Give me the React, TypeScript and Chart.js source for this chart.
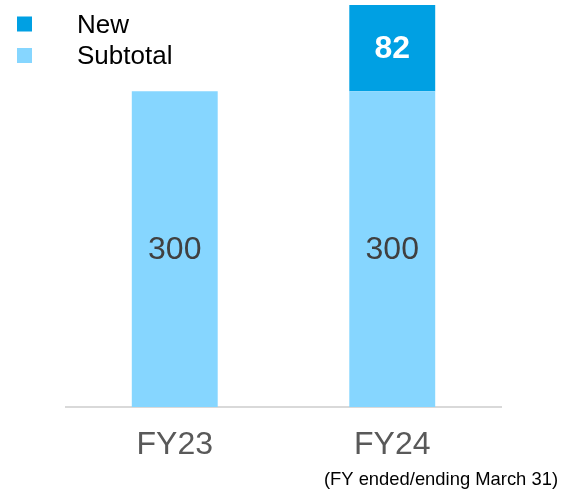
import React, { useEffect, useRef } from "react";
import { Chart, registerables } from "chart.js";

Chart.register(...registerables);

const categories = ["FY23", "FY24"];
const subtotalValues = [300, 300];
const newValues: (number | null)[] = [null, 82];
const seriesNames = ["New", "Subtotal"];
const noteText = "(FY ended/ending March 31)";

const NEW_COLOR = "#00A0E3";
const SUB_COLOR = "#86D6FF";
const FONT = "'Liberation Sans', Arial, sans-serif";

const labelPlugin = {
  id: "barLabels",
  afterDatasetsDraw(chart: any) {
    const ctx = chart.ctx;
    ctx.save();
    chart.data.datasets.forEach((ds: any, di: number) => {
      const meta = chart.getDatasetMeta(di);
      meta.data.forEach((el: any, i: number) => {
        const v = ds.data[i];
        if (v === null || v === undefined) return;
        const isNew = ds.label === "New";
        ctx.font = (isNew ? "bold " : "") + "32px " + FONT;
        ctx.fillStyle = isNew ? "#FFFFFF" : "#404040";
        ctx.textAlign = "center";
        ctx.textBaseline = "middle";
        ctx.fillText(String(v), el.x, (el.y + el.base) / 2 + 1.5);
      });
    });
    ctx.restore();
  },
};

const legendPlugin = {
  id: "customLegend",
  afterDraw(chart: any) {
    const ctx = chart.ctx;
    ctx.save();
    const colors: Record<string, string> = { New: NEW_COLOR, Subtotal: SUB_COLOR };
    seriesNames.forEach((name, i) => {
      const cy = 24 + i * 31.5;
      ctx.fillStyle = colors[name];
      ctx.fillRect(17, cy - 7.5, 15, 15);
      ctx.fillStyle = "#000000";
      ctx.font = "26px " + FONT;
      ctx.textAlign = "left";
      ctx.textBaseline = "middle";
      ctx.fillText(name, 77, cy + 1.5);
    });
    ctx.font = "18.4px " + FONT;
    ctx.fillStyle = "#000000";
    ctx.textAlign = "right";
    ctx.textBaseline = "middle";
    ctx.fillText(noteText, 558, 479.5);
    ctx.restore();
  },
};

export default function App() {
  const ref = useRef<HTMLCanvasElement>(null);
  useEffect(() => {
    if (!ref.current) return;
    const chart = new Chart(ref.current, {
      type: "bar",
      data: {
        labels: categories,
        datasets: [
          {
            label: "Subtotal",
            data: subtotalValues,
            backgroundColor: SUB_COLOR,
            barPercentage: 0.395,
            categoryPercentage: 1,
          },
          {
            label: "New",
            data: newValues,
            backgroundColor: NEW_COLOR,
            barPercentage: 0.395,
            categoryPercentage: 1,
          },
        ],
      },
      options: {
        responsive: false,
        animation: false,
        layout: { padding: { left: 66, right: 62, top: 5, bottom: 0 } },
        plugins: { legend: { display: false }, tooltip: { enabled: false } },
        scales: {
          x: {
            stacked: true,
            grid: { display: false, drawTicks: false },
            border: { display: true, color: "#D9D9D9", width: 2 },
            ticks: { color: "#595959", font: { size: 32, family: FONT }, padding: 19 },
            afterFit: (s: any) => {
              s.height = 83;
            },
          },
          y: {
            stacked: true,
            display: false,
            min: 0,
            max: 382,
          },
        },
      },
      plugins: [labelPlugin, legendPlugin],
    });
    return () => chart.destroy();
  }, []);
  return (
    <div style={{ position: "fixed", left: 0, top: 0, width: 563, height: 490, background: "#fff" }}>
      <canvas ref={ref} width={563} height={490} style={{ width: 563, height: 490 }} />
    </div>
  );
}
